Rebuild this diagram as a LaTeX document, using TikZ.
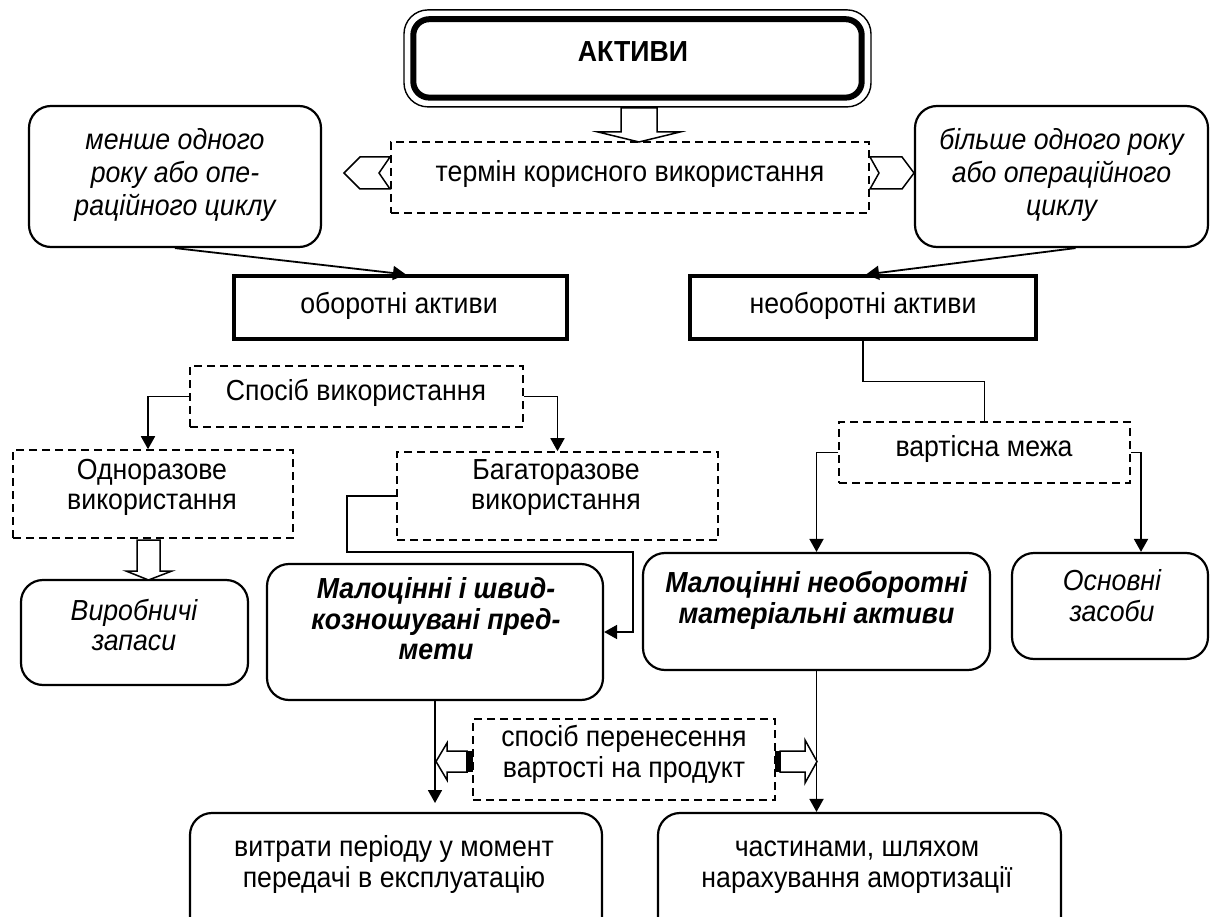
\documentclass[tikz,border=0pt]{standalone}
\usepackage{fontspec}
\setmainfont{Liberation Sans}[FakeStretch=0.92]
\usetikzlibrary{arrows.meta,calc}
\newcommand{\myfs}{\fontsize{29}{31}\selectfont}
\newcommand{\myfsb}{\fontsize{29}{33}\selectfont}
\newcommand{\myfsc}{\fontsize{29}{30}\selectfont}
\begin{document}
\begin{tikzpicture}[x=1pt,y=-1pt]
\tikzset{
 dbox/.style={draw, dash pattern=on 8pt off 5pt, line width=1.6pt, inner sep=0pt},
 rbox/.style={draw, rounded corners=22pt, line width=2.2pt, inner sep=0pt},
 tbox/.style={draw, line width=4pt, inner sep=0pt},
 txt/.style={inner sep=0pt, align=center, font=\myfs},
 conn/.style={line width=1.8pt, -{Triangle[length=13pt,width=14pt]}},
 plain/.style={line width=1.8pt},
 harrow/.style={draw, fill=white, line width=1.5pt, line join=miter},
}
\useasboundingbox (0,0) rectangle (1215,917);
\clip (0,0) rectangle (1215,917);

% ---- top
\node[draw, line width=1.4pt, rounded corners=24pt, inner sep=0pt, minimum width=467pt, minimum height=97pt] (akt) at (637.5,58.4) {};
\draw[line width=6pt, rounded corners=16pt] ($(akt.north west)+(10,10)$) rectangle ($(akt.south east)+(-10,-10)$);
\node[txt, font=\myfs\bfseries] (tAkt) at (633,55) {\strut АКТИВИ};

\node[dbox, minimum width=478pt, minimum height=71pt] (term) at (630,177.5) {};
\node[txt] (tTerm) at (630,175) {\strut термін корисного використання};

\draw[harrow] (621,108) -- (621,132) -- (598,132) -- (639,142) -- (680,132) -- (657,132) -- (657,108) -- cycle;

\draw[harrow] (390,157) -- (360,157) -- (344,173) -- (360,189) -- (390,189) -- (379,173) -- cycle;
\draw[harrow] (870,157) -- (902,157) -- (914,173) -- (902,189) -- (870,189) -- (879,173) -- cycle;

\node[rbox, minimum width=292pt, minimum height=141pt] (lbox) at (175,176.5) {};
\node[txt, font=\myfsb\itshape] (tL) at (175,176) {\strut менше одного\\\strut року або опе-\\\strut раційного циклу};
\node[rbox, minimum width=293pt, minimum height=141pt] (rbox) at (1061.5,176.5) {};
\node[txt, font=\myfsb\itshape] (tR) at (1061.5,176) {\strut більше одного року\\\strut або операційного\\\strut циклу};

\node[tbox, minimum width=333pt, minimum height=62pt] (obor) at (400,307.5) {};
\node[txt] (tObor) at (399,307) {\strut оборотні активи};
\node[tbox, minimum width=346pt, minimum height=62pt] (neob) at (863,307.5) {};
\node[txt] (tNeob) at (863,307) {\strut необоротні активи};

\draw[conn] (lbox.south) -- ($(obor.north)+(6,0)$);
\draw[conn] ($(rbox.south)+(14,0)$) -- ($(neob.north)+(3,0)$);

% ---- left branch
\node[dbox, minimum width=333pt, minimum height=61pt] (sposib) at (356.5,396.5) {};
\node[txt] (tSp) at (356,394) {\strut Спосіб використання};
\node[dbox, minimum width=280pt, minimum height=88pt] (odno) at (153,494) {};
\node[txt, font=\myfsc] (tOdno) at (152,488) {\strut Одноразове\\\strut використання};
\node[dbox, minimum width=321pt, minimum height=88pt] (bag) at (557.5,496) {};
\node[txt, font=\myfsc] (tBag) at (556,488) {\strut Багаторазове\\\strut використання};
\draw[conn] (sposib.west) -| ($(odno.north)+(-5,0)$);
\draw[conn] (sposib.east) -| (bag.north);

\node[rbox, minimum width=227pt, minimum height=105pt] (vyr) at (134.5,632.5) {};
\node[txt, font=\myfsc\itshape] (tVyr) at (134,629) {\strut Виробничі\\\strut запаси};
\draw[harrow] (137,540) -- (137,571) -- (126,571) -- (148.5,580) -- (172,571) -- (160,571) -- (160,540) -- cycle;

\node[rbox, minimum width=336pt, minimum height=136pt] (mal1) at (435,632) {};
\node[txt, font=\myfsc\bfseries\itshape] (tMal1) at (436,623) {\strut Малоцінні і швид-\\\strut козношувані пред-\\\strut мети};
\draw[conn] (bag.west) -- ++(-49,0) |- (633,552) |- (mal1.east);

% ---- right branch
\node[dbox, minimum width=291pt, minimum height=61pt] (vart) at (984.5,452.5) {};
\node[txt] (tVart) at (984,450) {\strut вартісна межа};
\draw[plain] (neob.south) -- ++(0,41) -| (vart.north);

\node[rbox, minimum width=347pt, minimum height=117pt] (mal2) at (816.5,611.5) {};
\node[txt, font=\myfsc\bfseries\itshape] (tMal2) at (816.5,602) {\strut Малоцінні необоротні\\\strut матеріальні активи};
\node[rbox, minimum width=196pt, minimum height=106pt] (osn) at (1110,606) {};
\node[txt, font=\myfsc\itshape] (tOsn) at (1112,600) {\strut Основні\\\strut засоби};
\draw[conn] (vart.west) -| (mal2.north);
\draw[conn] (vart.east) -| ($(osn.north)+(31,0)$);

% ---- bottom
\node[dbox, minimum width=302pt, minimum height=81pt] (per) at (624,759.5) {};
\node[txt] (tPer) at (624,756) {\strut спосіб перенесення\\\strut вартості на продукт};

\node[rbox, minimum width=412pt, minimum height=147pt] (bot1) at (396,886.5) {};
\node[txt, font=\myfsc] (tB1) at (394,866) {\strut витрати періоду у момент\\\strut передачі в експлуатацію};
\node[rbox, minimum width=403pt, minimum height=147pt] (bot2) at (859.5,886.5) {};
\node[txt, font=\myfsc] (tB2) at (857,866) {\strut частинами, шляхом\\\strut нарахування амортизації};

\coordinate (e1) at (435,803);
\draw[conn] (mal1.south) -- (e1);
\draw[conn] (mal2.south) -- (mal2.south |- bot2.north);

\draw[harrow] (467,751) -- (447,751) -- (447,743) -- (436,761.5) -- (447,780) -- (447,772) -- (467,772) -- cycle;
\fill (466,751) rectangle (473,772);
\draw[harrow] (780,751) -- (805,751) -- (805,740) -- (817,761.5) -- (805,783) -- (805,772) -- (780,772) -- cycle;
\fill (775,751) rectangle (781,772);
\end{tikzpicture}
\end{document}
